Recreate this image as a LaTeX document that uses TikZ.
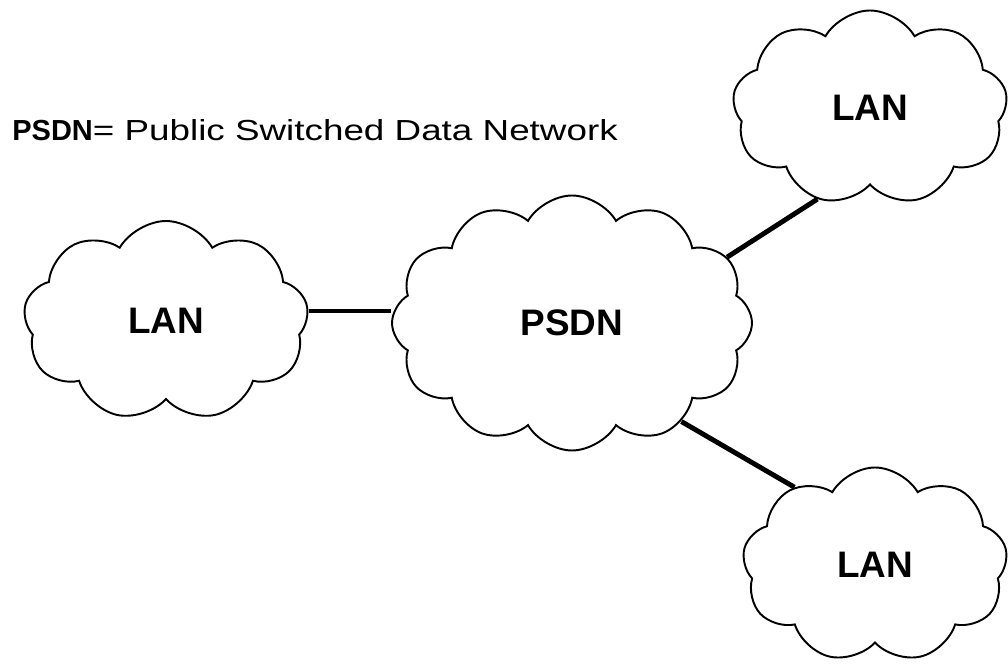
\documentclass[tikz,border=0pt]{standalone}
\usepackage{fontspec}
\setmainfont{Liberation Sans}
\usepackage{tikz}
\usetikzlibrary{shapes.symbols,positioning}
\tikzset{>=latex}

\begin{document}
\begin{tikzpicture}[x=0.02cm,y=-0.02cm,
  CLD/.style={cloud, draw, line width=1.1pt, cloud puffs=9,
              cloud puff arc=120, inner sep=0pt,
              font=\fontsize{21}{24}\selectfont\bfseries},
  LNK/.style={line width=2.8pt}
]
\useasboundingbox (0,0) rectangle (1008,665);

% title
\node[anchor=west, inner sep=0pt, font=\fontsize{16.5}{19}\selectfont] (ttl) at (12,130)
  {\textbf{PSDN}\scalebox{1.27}[1]{= Public Switched Data Network}};

% clouds
\node[CLD, minimum width=285*0.02cm, minimum height=200*0.02cm] (lanL) at (166,321) {LAN};
\node[CLD, cloud puffs=12, minimum width=360*0.02cm, minimum height=255*0.02cm] (psdn) at (572,323) {PSDN};
\node[CLD, minimum width=275*0.02cm, minimum height=195*0.02cm] (lanT) at (870,108) {LAN};
\node[CLD, minimum width=265*0.02cm, minimum height=195*0.02cm] (lanB) at (875,565) {LAN};

% links
\draw[LNK] (lanL.4) -- (lanL.4 -| psdn.west);
\draw[LNK] (psdn.23) -- (lanT.240);
\draw[LNK] (psdn.318) -- (lanB.136);
\end{tikzpicture}
\end{document}
